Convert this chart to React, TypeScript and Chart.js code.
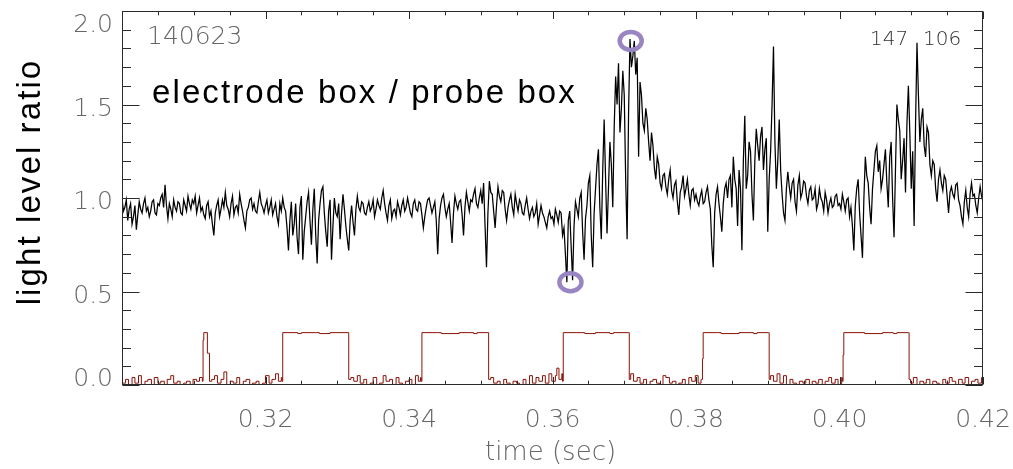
import React, { useEffect, useRef } from "react";
import { Chart, registerables } from "chart.js";

Chart.register(...registerables);

// ---- data ----
const timeStart = 0.3;
const timeStep = 0.0002;

// electrode box / probe box light level ratio, sampled every 0.2 ms from 0.300 s
const ratioValues = [
  1.00, 0.93, 0.95, 0.99, 0.88, 0.94, 0.97, 0.86, 0.90, 0.96, 0.83, 0.91, 0.98, 0.94, 0.92, 0.97, 1.00, 0.93, 0.95, 0.90, 0.93, 0.98, 0.99, 0.92, 0.91,
  0.97, 0.96, 1.00, 1.02, 0.95, 1.07, 0.96, 0.89, 0.97, 0.94, 0.90, 0.99, 0.95, 0.93, 0.98, 0.97, 0.92, 0.91, 0.99, 0.96, 0.93, 1.01, 0.97, 0.94, 0.99,
  0.97, 1.01, 0.92, 0.96, 1.00, 0.93, 0.95, 0.91, 0.89, 0.96, 0.98, 0.90, 0.93, 0.86, 0.80, 0.92, 0.96, 0.99, 0.90, 0.94, 0.99, 0.95, 1.03, 0.96, 0.94,
  0.90, 0.97, 1.01, 0.91, 0.95, 0.96, 0.92, 1.02, 0.97, 0.93, 0.88, 0.84, 0.93, 0.95, 0.99, 1.00, 0.94, 0.97, 0.93, 0.92, 0.98, 1.03, 0.97, 0.95, 0.92,
  0.96, 0.99, 0.92, 0.95, 0.99, 0.91, 0.94, 0.97, 0.90, 0.86, 0.97, 0.93, 1.00, 0.95, 0.93, 0.84, 0.72, 0.88, 0.98, 0.80, 0.86, 0.97, 0.79, 0.70, 0.95,
  1.01, 0.67, 0.82, 0.90, 0.98, 1.03, 0.88, 0.75, 0.94, 1.05, 0.80, 0.65, 0.88, 0.97, 1.04, 1.06, 0.92, 0.82, 0.74, 0.93, 0.99, 0.67, 0.85, 1.00, 0.92,
  0.90, 0.97, 0.78, 0.92, 1.02, 0.94, 0.85, 0.78, 0.72, 0.88, 0.96, 0.87, 0.80, 0.94, 1.01, 0.95, 0.93, 0.98, 0.97, 0.92, 0.91, 0.95, 0.98, 0.93, 0.95,
  0.99, 0.90, 0.94, 0.99, 0.96, 0.94, 1.00, 1.04, 0.97, 0.92, 0.88, 0.96, 0.99, 0.89, 0.93, 0.94, 0.90, 0.98, 0.95, 0.91, 0.96, 0.99, 0.93, 0.95, 1.00,
  0.96, 0.92, 0.90, 0.97, 0.99, 0.94, 0.93, 0.98, 0.97, 0.91, 0.84, 0.90, 0.95, 0.99, 1.00, 0.96, 0.92, 0.95, 0.98, 0.88, 0.70, 0.89, 0.96, 1.00, 1.02,
  0.95, 0.90, 0.94, 0.97, 0.87, 0.76, 0.92, 1.01, 0.97, 0.94, 0.98, 0.99, 0.91, 0.80, 0.95, 1.03, 0.98, 0.93, 0.99, 0.98, 1.02, 1.05, 0.97, 0.95, 1.00,
  1.04, 0.97, 1.08, 0.85, 0.63, 0.92, 1.09, 1.03, 1.02, 0.93, 0.84, 0.96, 1.06, 1.01, 0.98, 1.04, 1.03, 0.94, 0.88, 0.95, 0.99, 1.02, 0.95, 0.91, 1.02,
  0.97, 0.93, 0.99, 0.97, 0.92, 0.91, 0.96, 1.00, 0.94, 0.89, 0.93, 0.95, 0.90, 0.92, 0.97, 0.86, 0.91, 0.96, 0.92, 0.90, 0.87, 0.84, 0.90, 0.93, 0.89,
  0.90, 0.86, 0.94, 0.91, 0.87, 0.93, 0.92, 0.80, 0.84, 0.70, 0.55, 0.88, 0.93, 0.74, 0.56, 0.85, 0.98, 0.94, 0.90, 1.00, 1.03, 0.82, 0.67, 0.89, 0.96,
  1.08, 1.12, 0.80, 0.63, 0.92, 1.05, 1.18, 1.26, 0.95, 0.78, 1.15, 1.42, 1.10, 0.81, 1.05, 1.30, 1.18, 0.95, 1.38, 1.65, 1.50, 1.72, 1.35, 1.48, 1.68,
  1.55, 1.10, 0.78, 1.45, 1.85, 1.70, 1.76, 1.84, 1.66, 1.75, 1.22, 1.62, 1.55, 1.40, 1.36, 1.48, 1.42, 1.30, 1.20, 1.35, 1.28, 1.16, 1.10, 1.22, 1.18,
  1.08, 1.05, 1.12, 1.13, 1.06, 1.02, 1.10, 1.15, 1.04, 1.00, 1.07, 1.09, 0.98, 0.91, 1.03, 1.06, 1.12, 1.01, 1.05, 1.10, 1.02, 0.96, 1.04, 1.05, 0.99,
  1.02, 0.98, 0.96, 1.01, 1.04, 0.97, 0.98, 1.03, 1.06, 0.99, 0.94, 0.75, 0.63, 0.92, 1.02, 1.06, 0.97, 0.90, 0.82, 0.97, 1.05, 1.08, 1.00, 1.10, 1.12,
  0.95, 1.22, 1.10, 1.05, 0.85, 1.15, 1.05, 0.72, 1.20, 1.44, 1.05, 1.12, 1.30, 1.25, 1.02, 0.88, 1.20, 1.37, 1.28, 1.20, 1.33, 1.38, 1.15, 1.26, 1.32,
  0.82, 1.10, 1.25, 1.50, 1.81, 1.30, 1.05, 1.20, 1.42, 1.15, 1.02, 0.92, 0.88, 1.05, 1.14, 1.06, 1.00, 1.08, 1.10, 0.98, 0.93, 1.07, 1.12, 1.00, 1.03,
  1.09, 1.08, 1.01, 0.97, 1.04, 1.06, 0.99, 1.00, 1.05, 0.94, 0.97, 1.05, 1.00, 0.98, 0.93, 1.03, 0.99, 0.92, 0.97, 1.00, 0.95, 0.96, 1.01, 1.02, 0.96,
  0.97, 0.94, 1.02, 0.98, 0.93, 0.99, 1.00, 0.90, 0.95, 0.85, 0.72, 0.96, 1.05, 1.10, 0.92, 0.80, 0.68, 1.00, 1.22, 1.12, 1.08, 0.95, 0.86, 1.05, 1.15,
  1.25, 1.28, 1.14, 1.20, 1.05, 1.10, 1.18, 1.26, 1.08, 0.95, 1.22, 1.30, 1.00, 0.79, 1.15, 1.50, 1.42, 1.36, 1.10, 1.20, 1.32, 1.03, 1.40, 1.60, 1.35,
  1.05, 1.25, 0.85, 1.40, 1.83, 1.55, 1.30, 1.42, 1.48, 1.28, 1.22, 1.38, 1.35, 1.18, 1.12, 1.20, 1.18, 1.05, 0.98, 1.10, 1.15, 1.08, 1.04, 1.12, 1.10,
  1.01, 0.92, 1.03, 1.06, 1.02, 1.00, 1.07, 1.08, 0.99, 0.96, 0.90, 0.86, 0.98, 1.04, 0.95, 0.90, 1.02, 1.08, 1.01, 1.02, 0.96, 0.92, 1.00, 1.06, 1.01,
  0.98,
];

// timing pulse trace (red)
const pulseTimes = [
  0.3000, 0.3005, 0.3009, 0.3014, 0.3018, 0.3023, 0.3027, 0.3032, 0.3036, 0.3041, 0.3045, 0.3050, 0.3054, 0.3059, 0.3063, 0.3068, 0.3072, 0.3077, 0.3081, 0.3086, 0.3090, 0.3095, 0.3099, 0.3104, 0.3108, 0.3112,
  0.3113, 0.3114, 0.31185, 0.3119, 0.3121, 0.3122,
  0.3125, 0.3129, 0.3133, 0.3138, 0.3142, 0.3146, 0.3151, 0.3155, 0.3160, 0.3164, 0.3169, 0.3173, 0.3178, 0.3182, 0.3187, 0.3191, 0.3196, 0.3200, 0.3205, 0.3209, 0.3214, 0.3218, 0.3222,
  0.3223, 0.3224, 0.3245, 0.3250, 0.3270, 0.3275, 0.3290, 0.3315, 0.3316,
  0.3319, 0.3323, 0.3328, 0.3332, 0.3337, 0.3341, 0.3346, 0.3350, 0.3355, 0.3359, 0.3364, 0.3368, 0.3373, 0.3377, 0.3382, 0.3386, 0.3391, 0.3395, 0.3400, 0.3404, 0.3409, 0.3413, 0.3416,
  0.3417, 0.3418, 0.3440, 0.3445, 0.3470, 0.3490, 0.3495, 0.3510, 0.3511,
  0.3514, 0.3518, 0.3523, 0.3527, 0.3532, 0.3536, 0.3541, 0.3545, 0.3550, 0.3554, 0.3559, 0.3563, 0.3568, 0.3572, 0.3577, 0.3581, 0.3586, 0.3590, 0.3595, 0.3599, 0.3604, 0.3606, 0.3609, 0.3613,
  0.3614, 0.3615, 0.3640, 0.3645, 0.3660, 0.3680, 0.3685, 0.3706, 0.3707,
  0.3709, 0.3713, 0.3718, 0.3722, 0.3727, 0.3731, 0.3736, 0.3740, 0.3745, 0.3749, 0.3754, 0.3758, 0.3763, 0.3767, 0.3772, 0.3776, 0.3781, 0.3785, 0.3790, 0.3794, 0.3799, 0.3803, 0.3807,
  0.3808, 0.3809, 0.3810, 0.3830, 0.3835, 0.3860, 0.3880, 0.3885, 0.3901, 0.3902,
  0.3904, 0.3908, 0.3913, 0.3917, 0.3922, 0.3926, 0.3931, 0.3935, 0.3940, 0.3944, 0.3949, 0.3953, 0.3958, 0.3962, 0.3967, 0.3971, 0.3976, 0.3980, 0.3985, 0.3989, 0.3994, 0.3998, 0.4003,
  0.4004, 0.4005, 0.4006, 0.4030, 0.4035, 0.4060, 0.4075, 0.4080, 0.4096, 0.4097,
  0.4099, 0.4103, 0.4108, 0.4112, 0.4117, 0.4121, 0.4126, 0.4130, 0.4135, 0.4139, 0.4144, 0.4148, 0.4153, 0.4157, 0.4162, 0.4166, 0.4171, 0.4175, 0.4180, 0.4184, 0.4189, 0.4193, 0.4198, 0.4200,
];
const pulseLevels = [
  0.01, 0.03, 0.00, 0.04, 0.01, 0.05, 0.00, 0.02, 0.03, 0.00, 0.04, 0.01, 0.02, 0.00, 0.03, 0.05, 0.01, 0.02, 0.00, 0.01, 0.02, 0.00, 0.03, 0.02, 0.04, 0.02,
  0.24, 0.28, 0.28, 0.17, 0.17, 0.02,
  0.03, 0.05, 0.01, 0.03, 0.07, 0.00, 0.02, 0.01, 0.04, 0.00, 0.02, 0.03, 0.00, 0.01, 0.02, 0.00, 0.01, 0.05, 0.01, 0.03, 0.06, 0.02, 0.04,
  0.02, 0.28, 0.275, 0.28, 0.28, 0.275, 0.28, 0.28, 0.03,
  0.04, 0.02, 0.05, 0.01, 0.03, 0.00, 0.01, 0.04, 0.00, 0.01, 0.05, 0.02, 0.03, 0.00, 0.04, 0.01, 0.00, 0.02, 0.03, 0.00, 0.05, 0.02, 0.04,
  0.02, 0.28, 0.28, 0.275, 0.28, 0.275, 0.28, 0.28, 0.03,
  0.04, 0.01, 0.02, 0.00, 0.03, 0.01, 0.00, 0.02, 0.01, 0.00, 0.03, 0.00, 0.05, 0.01, 0.04, 0.02, 0.05, 0.01, 0.06, 0.02, 0.05, 0.09, 0.03, 0.06,
  0.02, 0.28, 0.28, 0.275, 0.28, 0.275, 0.28, 0.28, 0.03,
  0.06, 0.02, 0.04, 0.01, 0.03, 0.00, 0.02, 0.03, 0.01, 0.00, 0.05, 0.04, 0.01, 0.02, 0.00, 0.01, 0.03, 0.00, 0.04, 0.02, 0.05, 0.01, 0.03,
  0.03, 0.14, 0.28, 0.28, 0.275, 0.28, 0.275, 0.28, 0.28, 0.03,
  0.05, 0.02, 0.06, 0.01, 0.05, 0.00, 0.03, 0.01, 0.00, 0.02, 0.01, 0.03, 0.00, 0.02, 0.01, 0.03, 0.00, 0.02, 0.04, 0.01, 0.03, 0.00, 0.04,
  0.02, 0.16, 0.28, 0.28, 0.275, 0.28, 0.275, 0.28, 0.28, 0.03,
  0.01, 0.04, 0.00, 0.02, 0.01, 0.03, 0.00, 0.02, 0.01, 0.00, 0.03, 0.01, 0.04, 0.02, 0.00, 0.03, 0.01, 0.04, 0.00, 0.02, 0.03, 0.01, 0.04, 0.28,
];

// marked extremes (circled)
const markedTimes = [0.3709, 0.3625];
const markedValues = [1.84, 0.55];

const xRange = [0.3, 0.42];
const yRange = [0, 2];
const xMajorStep = 0.02;
const xMinorStep = 0.005;
const yMajorStep = 0.5;
const yMinorStep = 0.1;

const shotLabel = "140623";
const cornerLabels = ["147", "106"];
const plotNote = "electrode box / probe box";
const xTitle = "time (sec)";
const yTitle = "light level ratio";

const thinFont = "'DejaVu Sans', 'Liberation Sans', sans-serif";
const sansFont = "'Liberation Sans', Arial, sans-serif";

const framePlugin = {
  id: "idlFrame",
  afterDraw(chart: any) {
    const { ctx, chartArea: a, scales } = chart;
    const xs = scales.x;
    const ys = scales.y;
    const L = Math.round(a.left) + 0.5;
    const R = Math.round(a.right) - 0.5;
    const T = Math.round(a.top) + 0.5;
    const B = Math.round(a.bottom) - 0.5;
    ctx.save();
    ctx.strokeStyle = "#2a2a2a";
    ctx.lineWidth = 1;
    ctx.strokeRect(L, T, R - L, B - T);

    const nx = Math.round((xs.max - xs.min) / xMinorStep);
    const perMajorX = Math.round(xMajorStep / xMinorStep);
    ctx.beginPath();
    for (let k = 0; k <= nx; k++) {
      const px = Math.round(xs.getPixelForValue(xs.min + k * xMinorStep)) + 0.5;
      const len = k % perMajorX === 0 ? 7.5 : 3.8;
      ctx.moveTo(px, B);
      ctx.lineTo(px, B - len);
      ctx.moveTo(px, T);
      ctx.lineTo(px, T + len);
    }
    const ny = Math.round((ys.max - ys.min) / yMinorStep);
    const perMajorY = Math.round(yMajorStep / yMinorStep);
    for (let k = 0; k <= ny; k++) {
      const py = Math.round(ys.getPixelForValue(ys.min + k * yMinorStep)) + 0.5;
      const len = k % perMajorY === 0 ? 17 : 8.5;
      ctx.moveTo(L, py);
      ctx.lineTo(L + len, py);
      ctx.moveTo(R, py);
      ctx.lineTo(R - len, py);
    }
    ctx.stroke();

    // tick labels
    ctx.fillStyle = "#666";
    ctx.font = `200 25px ${thinFont}`;
    ctx.textBaseline = "alphabetic";
    ctx.textAlign = "center";
    xs.ticks.forEach((t: any) => {
      if (Math.abs(t.value - xs.min) < 1e-9) return;
      ctx.fillText(t.value.toFixed(2), xs.getPixelForValue(t.value), a.bottom + 42);
    });
    ctx.textAlign = "right";
    ys.ticks.forEach((t: any) => {
      const py = ys.getPixelForValue(t.value);
      let by = py + 11;
      if (Math.abs(t.value - ys.max) < 1e-9) by = py + 21;
      if (Math.abs(t.value - ys.min) < 1e-9) by = py + 1;
      ctx.fillText(t.value.toFixed(1), a.left - 9, by);
    });

    // x title
    ctx.textAlign = "center";
    ctx.font = `200 26px ${thinFont}`;
    ctx.fillText(xTitle, (a.left + a.right) / 2 - 2, a.bottom + 75);

    // shot number and corner numbers
    ctx.textAlign = "left";
    ctx.font = `200 25px ${thinFont}`;
    ctx.fillText(shotLabel, a.left + 25, a.top + 33);
    ctx.fillStyle = "#333";
    ctx.font = `200 20px ${thinFont}`;
    ctx.fillText(cornerLabels[0], a.right - 113, a.top + 34);
    ctx.fillText(cornerLabels[1], a.right - 60, a.top + 34);

    // note
    ctx.fillStyle = "#000";
    ctx.font = `33px ${sansFont}`;
    (ctx as any).letterSpacing = "2.1px";
    ctx.fillText(plotNote, a.left + 30, a.top + 92);

    // y title
    ctx.save();
    ctx.translate(40, (a.top + a.bottom) / 2 - 16);
    ctx.rotate(-Math.PI / 2);
    ctx.textAlign = "center";
    ctx.fillText(yTitle, 0, 0);
    ctx.restore();
    (ctx as any).letterSpacing = "0px";

    // circles
    ctx.strokeStyle = "#9a85c3";
    ctx.lineWidth = 4.5;
    for (let i = 0; i < markedTimes.length; i++) {
      const cx = xs.getPixelForValue(markedTimes[i]);
      const cy = ys.getPixelForValue(markedValues[i]);
      ctx.beginPath();
      ctx.ellipse(cx, cy, 11, 9, 0, 0, Math.PI * 2);
      ctx.stroke();
    }
    ctx.restore();
  },
};

export default function App() {
  const canvasRef = useRef<HTMLCanvasElement | null>(null);

  useEffect(() => {
    if (!canvasRef.current) return;
    const ratioData = ratioValues.map((v, i) => ({ x: timeStart + i * timeStep, y: v }));
    const pulseData = pulseTimes.map((t, i) => ({ x: t, y: pulseLevels[i] }));
    const chart = new Chart(canvasRef.current, {
      type: "line",
      data: {
        datasets: [
          {
            label: "light level ratio",
            data: ratioData,
            borderColor: "#000000",
            borderWidth: 1.25,
            pointRadius: 0,
            tension: 0,
            fill: false,
          },
          {
            label: "timing",
            data: pulseData,
            borderColor: "#8a1208",
            borderWidth: 1,
            pointRadius: 0,
            tension: 0,
            stepped: true,
            fill: false,
          },
        ],
      },
      options: {
        animation: false,
        responsive: false,
        maintainAspectRatio: false,
        layout: { padding: { left: 0, right: 30, top: 11, bottom: 0 } },
        plugins: {
          legend: { display: false },
          tooltip: { enabled: false },
          title: { display: false },
        },
        scales: {
          x: {
            type: "linear",
            min: xRange[0],
            max: xRange[1],
            ticks: { stepSize: xMajorStep, display: false },
            grid: { display: false },
            border: { display: false },
            afterFit: (s: any) => {
              s.height = 84;
            },
          },
          y: {
            type: "linear",
            min: yRange[0],
            max: yRange[1],
            ticks: { stepSize: yMajorStep, display: false },
            grid: { display: false },
            border: { display: false },
            afterFit: (s: any) => {
              s.width = 122;
            },
          },
        },
      },
      plugins: [framePlugin],
    });
    return () => chart.destroy();
  }, []);

  return (
    <div style={{ position: "fixed", left: 0, top: 0, width: 1013, height: 469, background: "#fff" }}>
      <canvas ref={canvasRef} width={1013} height={469} />
    </div>
  );
}
